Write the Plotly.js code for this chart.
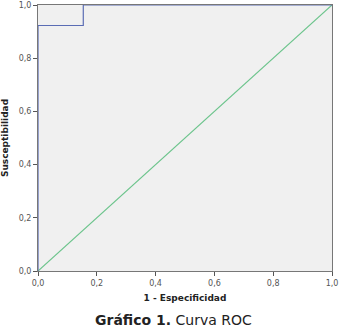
<!DOCTYPE html>
<html><head><meta charset="utf-8">
<script src="https://cdn.plot.ly/plotly-3.0.1.min.js"></script>
<style>html,body{margin:0;padding:0;background:#fff;}#c{width:343px;height:331px;}</style>
</head><body><div id="c"></div>
<script>
const rocX = [0, 0, 0.154, 0.154, 1];
const rocY = [0, 0.923, 0.923, 1, 1];
const refX = [0, 1];
const refY = [0, 1];
const tickVals = [0, 0.2, 0.4, 0.6, 0.8, 1.0];
const tickText = ['0,0', '0,2', '0,4', '0,6', '0,8', '1,0'];

const traces = [
  {x: refX, y: refY, mode: 'lines', line: {color: '#6cc48c', width: 1.2}, hoverinfo: 'skip'},
  {x: rocX, y: rocY, mode: 'lines', line: {color: '#5a6cb4', width: 1.2}, hoverinfo: 'skip'}
];
const axisCommon = {
  range: [0, 1], tickvals: tickVals, ticktext: tickText,
  ticks: 'outside', ticklen: 4, tickcolor: '#555', tickwidth: 1,
  showgrid: false, zeroline: false, showline: true, linecolor: '#777', linewidth: 1, mirror: true,
  tickfont: {family: 'DejaVu Sans', size: 8, color: '#555'}
};
const layout = {
  width: 343, height: 331,
  margin: {l: 38, r: 11, t: 5, b: 60},
  paper_bgcolor: '#ffffff', plot_bgcolor: '#f0f0f0',
  showlegend: false,
  xaxis: Object.assign({}, axisCommon, {
    title: {text: '<b>1 - Especificidad</b>', font: {family: 'DejaVu Sans', size: 9, color: '#222'}, standoff: 8}
  }),
  yaxis: Object.assign({}, axisCommon, {
    title: {text: '<b>Susceptibilidad</b>', font: {family: 'DejaVu Sans', size: 9, color: '#222'}, standoff: 8}
  }),
  annotations: [{
    text: '<b>Gráfico 1.</b> Curva ROC', xref: 'paper', yref: 'paper',
    x: 0.46, y: -0.185, xanchor: 'center', yanchor: 'middle',
    showarrow: false, font: {family: 'DejaVu Sans', size: 14, color: '#222'}
  }]
};
Plotly.newPlot('c', traces, layout, {displayModeBar: false, staticPlot: true});
</script></body></html>
